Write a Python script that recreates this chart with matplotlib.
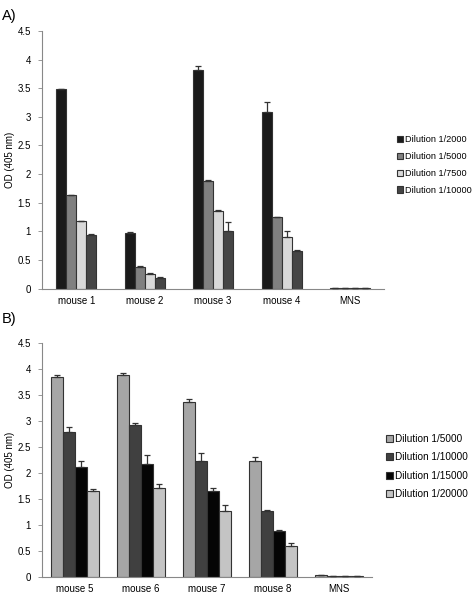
import numpy as np
import matplotlib.pyplot as plt

plt.rcParams['font.family'] = ['Liberation Sans', 'DejaVu Sans']

# ===== Panel A data =====
groups_a = ['mouse 1', 'mouse 2', 'mouse 3', 'mouse 4', 'MNS']
dil_a = ['Dilution 1/2000', 'Dilution 1/5000', 'Dilution 1/7500', 'Dilution 1/10000']
vals_a = [
    [3.48, 0.98, 3.82, 3.08, 0.01],
    [1.63, 0.37, 1.88, 1.25, 0.01],
    [1.19, 0.25, 1.35, 0.90, 0.01],
    [0.93, 0.19, 1.01, 0.66, 0.01],
]
errs_a = [
    [0.01, 0.01, 0.07, 0.18, 0.0],
    [0.0, 0.02, 0.02, 0.01, 0.0],
    [0.0, 0.02, 0.02, 0.11, 0.0],
    [0.03, 0.01, 0.15, 0.02, 0.0],
]
colors_a = ['#1a1a1a', '#808080', '#d9d9d9', '#454545']

# ===== Panel B data =====
groups_b = ['mouse 5', 'mouse 6', 'mouse 7', 'mouse 8', 'MNS']
dil_b = ['Dilution 1/5000', 'Dilution 1/10000', 'Dilution 1/15000', 'Dilution 1/20000']
vals_b = [
    [3.86, 3.88, 3.36, 2.23, 0.03],
    [2.80, 2.93, 2.23, 1.27, 0.01],
    [2.11, 2.18, 1.66, 0.89, 0.01],
    [1.65, 1.72, 1.27, 0.60, 0.01],
]
errs_b = [
    [0.02, 0.04, 0.06, 0.07, 0.0],
    [0.08, 0.04, 0.16, 0.01, 0.0],
    [0.12, 0.16, 0.06, 0.02, 0.0],
    [0.04, 0.07, 0.12, 0.06, 0.0],
]
colors_b = ['#a6a6a6', '#404040', '#050505', '#c4c4c4']

yticks = [0, 0.5, 1, 1.5, 2, 2.5, 3, 3.5, 4, 4.5]
ytick_labels = ['0', '0.5', '1', '1.5', '2', '2.5', '3', '3.5', '4', '4.5']


def draw_panel(ax, groups, labels, vals, errs, colors, width, label_x):
    x = np.arange(len(groups))
    n = len(labels)
    for i in range(n):
        pos = x + (i - (n - 1) / 2) * width
        v = np.array(vals[i])
        e = np.array(errs[i])
        ax.bar(pos, v, width, color=colors[i], edgecolor='#333333', linewidth=0.8,
               label=labels[i], zorder=2)
        ax.errorbar(pos, v, yerr=[np.zeros_like(e), e], fmt='none', ecolor='#333333',
                    elinewidth=0.9, capsize=2.2, capthick=0.9, zorder=3)
    ax.set_xlim(-0.5, len(groups) - 0.5)
    ax.set_ylim(0, 4.5)
    ax.set_yticks(yticks)
    ax.set_yticklabels(ytick_labels, fontsize=7)
    ax.set_xticks(x)
    ax.set_xticklabels(groups, fontsize=7)
    ax.tick_params(axis='x', length=0, pad=5)
    ax.tick_params(axis='y', length=3, width=0.6, color='#888888', pad=5)
    for s in ['top', 'right']:
        ax.spines[s].set_visible(False)
    for s in ['left', 'bottom']:
        ax.spines[s].set_color('#888888')
        ax.spines[s].set_linewidth(0.8)
    ax.set_ylabel('OD (405 nm)', fontsize=7)
    ax.yaxis.set_label_coords(label_x, 0.5)


fig = plt.figure(figsize=(4.72, 5.94), dpi=100)

ax1 = fig.add_axes([0.089, 0.514, 0.725, 0.434])
draw_panel(ax1, groups_a, dil_a, vals_a, errs_a, colors_a, 0.146, -0.079)
ax1.legend(loc='center left', bbox_to_anchor=(0.833, 0.722), bbox_transform=fig.transFigure,
           frameon=False, fontsize=6.6, handlelength=0.7, handleheight=0.7,
           handletextpad=0.2, labelspacing=0.85, borderaxespad=0)

ax2 = fig.add_axes([0.089, 0.029, 0.699, 0.393])
draw_panel(ax2, groups_b, dil_b, vals_b, errs_b, colors_b, 0.182, -0.082)
ax2.legend(loc='center left', bbox_to_anchor=(0.81, 0.215), bbox_transform=fig.transFigure,
           frameon=False, fontsize=7.2, handlelength=0.7, handleheight=0.7,
           handletextpad=0.2, labelspacing=0.85, borderaxespad=0)

fig.text(0.004, 0.985, 'A)', fontsize=10.5, va='top', ha='left')
fig.text(0.004, 0.475, 'B)', fontsize=10.5, va='top', ha='left')

fig.savefig('out.png', dpi=100)
